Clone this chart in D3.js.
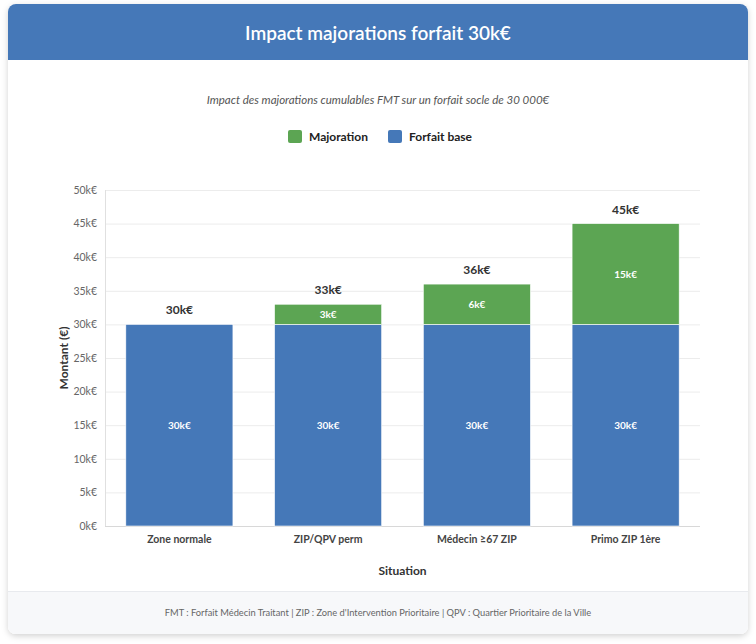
<!DOCTYPE html>
<html><head><meta charset="utf-8">
<script src="https://cdn.jsdelivr.net/npm/d3@7"></script>
<style>
html,body{margin:0;padding:0;background:#fff;}
body{width:756px;height:644px;overflow:hidden;font-family:Lato,"Open Sans",sans-serif;}
svg text{font-family:Lato,"Open Sans",sans-serif;}
</style></head>
<body>
<svg id="chart" width="756" height="644"></svg>
<script>
const categories = ["Zone normale", "ZIP/QPV perm", "Médecin ≥67 ZIP", "Primo ZIP 1ère"];
const baseValues = [30000, 30000, 30000, 30000];
const majorationValues = [0, 3000, 6000, 15000];
const yTicks = [0, 5000, 10000, 15000, 20000, 25000, 30000, 35000, 40000, 45000, 50000];
const seriesNames = ["Majoration", "Forfait base"];
const titleText = "Impact majorations forfait 30k€";
const subtitleText = "Impact des majorations cumulables FMT sur un forfait socle de 30 000€";
const footerText = "FMT : Forfait Médecin Traitant | ZIP : Zone d'Intervention Prioritaire | QPV : Quartier Prioritaire de la Ville";

const blue = "#4578b8", green = "#5ca553";
const svg = d3.select("#chart");
const defs = svg.append("defs");
const f = defs.append("filter").attr("id","sh").attr("x","-5%").attr("y","-5%").attr("width","110%").attr("height","110%");
f.append("feDropShadow").attr("dx",0).attr("dy",2).attr("stdDeviation",3).attr("flood-color","#000").attr("flood-opacity",0.18);
const cp = defs.append("clipPath").attr("id","card");
cp.append("rect").attr("x",8).attr("y",4).attr("width",740).attr("height",630).attr("rx",8);

// card
svg.append("rect").attr("x",8).attr("y",4).attr("width",740).attr("height",630).attr("rx",8).attr("fill","#fff").attr("filter","url(#sh)");
const card = svg.append("g").attr("clip-path","url(#card)");
card.append("rect").attr("x",8).attr("y",4).attr("width",740).attr("height",56).attr("fill",blue);
card.append("rect").attr("x",8).attr("y",591).attr("width",740).attr("height",43).attr("fill","#f7f8fa");
card.append("line").attr("x1",8).attr("x2",748).attr("y1",591.5).attr("y2",591.5).attr("stroke","#e8eaee");

svg.append("text").attr("x",378).attr("y",40).attr("text-anchor","middle").attr("fill","#fff")
  .attr("font-size",19).attr("font-weight",600).text(titleText);
svg.append("text").attr("x",378).attr("y",104).attr("text-anchor","middle").attr("fill","#555")
  .attr("font-size",11.5).attr("font-style","italic").text(subtitleText);
svg.append("text").attr("x",378).attr("y",616).attr("text-anchor","middle").attr("fill","#666")
  .attr("font-size",9.3).text(footerText);

// legend
const legendX = [288, 388];
const legendColors = [green, blue];
seriesNames.forEach((n,i)=>{
  svg.append("rect").attr("x",legendX[i]).attr("y",130).attr("width",14).attr("height",13).attr("rx",2).attr("fill",legendColors[i]);
  svg.append("text").attr("x",legendX[i]+21).attr("y",141).attr("fill","#222").attr("font-size",12).attr("font-weight",700).text(n);
});

const m = {left:105, right:700, top:190, bottom:526};
const x = d3.scaleBand().domain(categories).range([m.left, m.right]).paddingInner(0.28).paddingOuter(0.14);
const y = d3.scaleLinear().domain([0,50000]).range([m.bottom, m.top]);

// grid
svg.append("g").selectAll("line").data(yTicks).join("line")
  .attr("x1",m.left).attr("x2",m.right).attr("y1",d=>y(d)+0.5).attr("y2",d=>y(d)+0.5)
  .attr("stroke","#ececec").attr("stroke-width",1);
svg.append("line").attr("x1",m.left+0.5).attr("x2",m.left+0.5).attr("y1",m.top).attr("y2",m.bottom).attr("stroke","#e0e0e0");
svg.append("line").attr("x1",m.left).attr("x2",m.right).attr("y1",m.bottom+0.5).attr("y2",m.bottom+0.5).attr("stroke","#d8d8d8");

// y axis
const yAxis = d3.axisLeft(y).tickValues(yTicks).tickSize(0).tickPadding(8).tickFormat(d=>(d/1000)+"k€");
const ya = svg.append("g").attr("transform",`translate(${m.left},0)`).call(yAxis);
ya.select(".domain").remove();
ya.selectAll("text").attr("fill","#666").attr("font-size",10.5).attr("font-family","Lato, sans-serif");

// x axis
const xAxis = d3.axisBottom(x).tickSize(0).tickPadding(10);
const xa = svg.append("g").attr("transform",`translate(0,${m.bottom})`).call(xAxis);
xa.select(".domain").remove();
xa.selectAll("text").attr("fill","#444").attr("font-size",10.5).attr("font-weight",700).attr("font-family","Lato, sans-serif");

svg.append("text").attr("x",(m.left+m.right)/2).attr("y",575).attr("text-anchor","middle").attr("fill","#333")
  .attr("font-size",12).attr("font-weight",700).text("Situation");
svg.append("text").attr("transform",`translate(68,${(m.top+m.bottom)/2}) rotate(-90)`).attr("text-anchor","middle").attr("fill","#333")
  .attr("font-size",12).attr("font-weight",700).text("Montant (€)");

const data = categories.map((c,i)=>({c, base:baseValues[i], maj:majorationValues[i]}));
// base bars
svg.append("g").selectAll("rect").data(data).join("rect")
  .attr("x",d=>x(d.c)).attr("width",x.bandwidth())
  .attr("y",d=>y(d.base)).attr("height",d=>y(0)-y(d.base)).attr("fill",blue)
  .attr("stroke","#fff").attr("stroke-width",0.6);
// majoration bars
svg.append("g").selectAll("rect").data(data.filter(d=>d.maj>0)).join("rect")
  .attr("x",d=>x(d.c)).attr("width",x.bandwidth())
  .attr("y",d=>y(d.base+d.maj)).attr("height",d=>y(d.base)-y(d.base+d.maj)).attr("fill",green)
  .attr("stroke","#fff").attr("stroke-width",0.6);

// inside labels
svg.append("g").selectAll("text").data(data).join("text")
  .attr("x",d=>x(d.c)+x.bandwidth()/2).attr("y",d=>y(d.base/2)+4).attr("text-anchor","middle")
  .attr("fill","#fff").attr("font-size",10).attr("font-weight",700).text(d=>(d.base/1000)+"k€");
svg.append("g").selectAll("text").data(data.filter(d=>d.maj>0)).join("text")
  .attr("x",d=>x(d.c)+x.bandwidth()/2).attr("y",d=>y(d.base+d.maj/2)+4).attr("text-anchor","middle")
  .attr("fill","#fff").attr("font-size",10).attr("font-weight",700).text(d=>(d.maj/1000)+"k€");
// totals
svg.append("g").selectAll("text").data(data).join("text")
  .attr("x",d=>x(d.c)+x.bandwidth()/2).attr("y",d=>y(d.base+d.maj)-10).attr("text-anchor","middle")
  .attr("fill","#333").attr("font-size",12).attr("font-weight",700).text(d=>((d.base+d.maj)/1000)+"k€");
</script>
</body></html>
